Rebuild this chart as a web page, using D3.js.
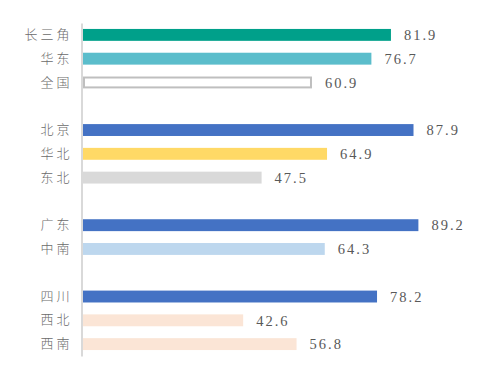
<!DOCTYPE html>
<html>
<head>
<meta charset="utf-8">
<script src="https://cdn.jsdelivr.net/npm/d3@7"></script>
<style>
  html, body { margin: 0; padding: 0; background: #fff; }
  svg { display: block; }
</style>
</head>
<body>
<svg id="chart" width="491" height="379"></svg>
<script>
// ---- data ----
const categories = ["长三角", "华东", "全国", "北京", "华北", "东北", "广东", "中南", "四川", "西北", "西南"];
const values     = [81.9, 76.7, 60.9, 87.9, 64.9, 47.5, 89.2, 64.3, 78.2, 42.6, 56.8];
const groupSizes = [3, 3, 2, 3];
const barColors  = ["#00A08A", "#5BBDCB", "#FFFFFF", "#4472C4", "#FFD966", "#D9D9D9", "#4472C4", "#BDD7EE", "#4472C4", "#FBE5D6", "#FBE5D6"];
const barStrokes = [null, null, "#BFBFBF", null, null, null, null, null, null, null, null];

// ---- build slot domain with spacer rows between groups ----
const slots = [];
let k = 0;
groupSizes.forEach((n, gi) => {
  for (let i = 0; i < n; i++) slots.push(categories[k++]);
  if (gi < groupSizes.length - 1) slots.push("__gap" + gi);
});

const svg = d3.select("#chart");
const x = d3.scaleLinear().domain([0, 100]).range([83, 459]);
const y = d3.scaleBand().domain(slots).range([23, 356]).paddingInner(0.5).paddingOuter(0.25);

const data = categories.map((c, i) => ({ c, v: values[i], fill: barColors[i], stroke: barStrokes[i] }));

// bars
svg.append("g").selectAll("rect").data(data).join("rect")
  .attr("x", d => d.stroke ? x(0) + 1 : x(0))
  .attr("y", d => d.stroke ? y(d.c) + 1 : y(d.c))
  .attr("width", d => d.stroke ? x(d.v) - x(0) - 2 : x(d.v) - x(0))
  .attr("height", d => d.stroke ? y.bandwidth() - 2 : y.bandwidth())
  .attr("fill", d => d.fill)
  .attr("stroke", d => d.stroke || "none")
  .attr("stroke-width", 2);

// value labels
svg.append("g").selectAll("text").data(data).join("text")
  .attr("x", d => x(d.v) + 13)
  .attr("y", d => y(d.c) + y.bandwidth() / 2)
  .attr("dy", "0.36em")
  .attr("fill", "#595959")
  .style("font-family", "'Liberation Serif', 'DejaVu Serif', serif")
  .style("font-size", "14.5px")
  .style("letter-spacing", "2px")
  .text(d => d.v.toFixed(1));

// category axis
const axis = d3.axisLeft(y).tickSize(0).tickSizeOuter(0).tickPadding(9)
  .tickFormat(d => d.startsWith("__gap") ? "" : d);
const ag = svg.append("g").attr("transform", "translate(81.5,0)").call(axis);
ag.select(".domain").attr("stroke", "#D9D9D9").attr("stroke-width", 2);
ag.selectAll("text")
  .attr("fill", "#6b6b6b")
  .style("font-family", "'Noto Sans CJK SC', sans-serif")
  .style("font-size", "13px")
  .style("font-weight", "300")
  .style("letter-spacing", "3px");
</script>
</body>
</html>
